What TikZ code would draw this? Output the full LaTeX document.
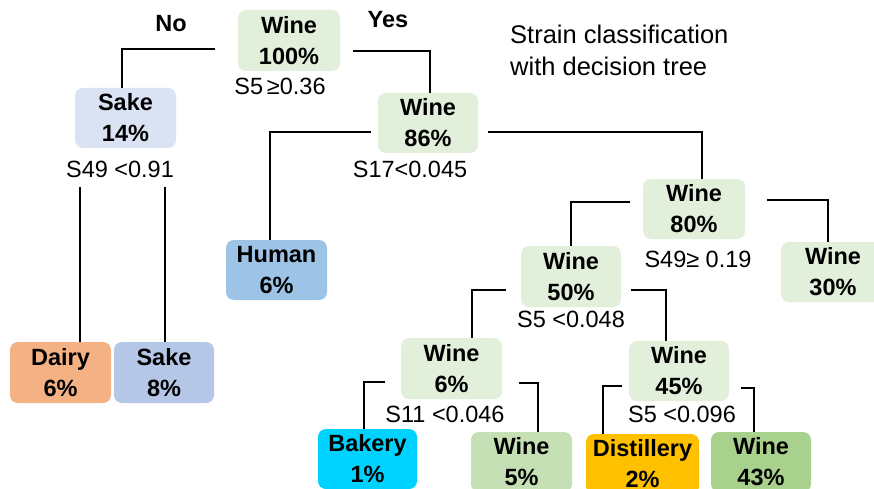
\documentclass[tikz,border=0pt]{standalone}
\usepackage{fontspec}
\setmainfont{Liberation Sans}
\usetikzlibrary{calc}
\definecolor{wgreen}{HTML}{E2EFDA}
\definecolor{sakelight}{HTML}{DAE3F3}
\definecolor{dairyc}{HTML}{F4B183}
\definecolor{sakemid}{HTML}{B4C7E7}
\definecolor{humanc}{HTML}{9DC3E6}
\definecolor{bakeryc}{HTML}{00D2FF}
\definecolor{wmid}{HTML}{C5E0B4}
\definecolor{distc}{HTML}{FFC000}
\definecolor{wdark}{HTML}{A9D18E}
\tikzset{
  nbox/.style={rounded corners=8pt, inner sep=0pt, align=center,
    font=\fontsize{23.5}{31}\selectfont\bfseries, text=black},
  rule/.style={anchor=base, inner sep=0pt, font=\fontsize{23.5}{28}\selectfont},
  tag/.style={anchor=base, inner sep=0pt, font=\fontsize{23.5}{28}\selectfont\bfseries},
  conn/.style={draw=black, line width=2.6pt}
}
\begin{document}
\begin{tikzpicture}[x=1pt,y=-1pt]
\clip (0,0) rectangle (874,489);
\fill[white] (0,0) rectangle (874,489);
% boxes
\node[nbox, fill=wgreen, minimum width=102pt, minimum height=61pt] (root) at (289,40.5) {Wine\\100\%};
\node[nbox, fill=sakelight, minimum width=101pt, minimum height=60pt] (sake14) at (125.5,118) {Sake\\14\%};
\node[nbox, fill=dairyc, minimum width=101pt, minimum height=61pt] (dairy) at (60.5,372.5) {Dairy\\6\%};
\node[nbox, fill=sakemid, minimum width=100pt, minimum height=61pt] (sake8) at (164,372.5) {Sake\\8\%};
\node[nbox, fill=wgreen, minimum width=100pt, minimum height=60pt] (w86) at (428,123) {Wine\\86\%};
\node[nbox, fill=humanc, minimum width=101pt, minimum height=60pt] (human) at (276.5,270) {Human\\6\%};
\node[nbox, fill=wgreen, minimum width=102pt, minimum height=60pt] (w80) at (694,209) {Wine\\80\%};
\node[nbox, fill=wgreen, minimum width=104pt, minimum height=60pt] (w30) at (833,272) {Wine\\30\%};
\node[nbox, fill=wgreen, minimum width=100pt, minimum height=61pt] (w50) at (571,276.5) {Wine\\50\%};
\node[nbox, fill=wgreen, minimum width=101pt, minimum height=61pt] (w6) at (451.5,368.5) {Wine\\6\%};
\node[nbox, fill=wgreen, minimum width=100pt, minimum height=60pt] (w45) at (679,371) {Wine\\45\%};
\node[nbox, fill=bakeryc, minimum width=99pt, minimum height=60pt] (bakery) at (367.5,459) {Bakery\\1\%};
\node[nbox, fill=wmid, minimum width=101pt, minimum height=60pt] (w5) at (521.5,462) {Wine\\5\%};
\node[nbox, fill=distc, minimum width=113pt, minimum height=60pt] (dist) at (642.5,464) {Distillery\\2\%};
\node[nbox, fill=wdark, minimum width=100pt, minimum height=60pt] (w43) at (761,462) {Wine\\43\%};
% split rules
\node[rule] (r1) at (280,95) {S5\,≥0.36};
\node[rule] (r2) at (120,177) {S49 <0.91};
\node[rule] (r3) at (410,178) {S17<0.045};
\node[rule] (r4) at (698,267) {S49≥ 0.19};
\node[rule] (r5) at (571,327) {S5 <0.048};
\node[rule] (r6) at (445,422) {S11 <0.046};
\node[rule] (r7) at (682,422) {S5 <0.096};
% branch tags
\node[tag] (no) at (171,32) {No};
\node[tag] (yes) at (388,28) {Yes};
% title
\node[anchor=base west, inner sep=0pt, align=left, font=\fontsize{25.5}{32}\selectfont] (title) at (510,76) {Strain classification\\with decision tree};
% connectors
\draw[conn] ($(root.west)+(-23,8.5)$) -| ($(sake14.north)+(-3.5,0)$);
\draw[conn] ($(root.east)+(13,10.5)$) -| ($(w86.north)+(2,0)$);
\coordinate (s14a) at ($(sake14.south)+(-45.5,39)$);
\coordinate (s14b) at ($(sake14.south)+(39.5,39)$);
\draw[conn] (s14a) -- (s14a |- dairy.north);
\draw[conn] (s14b) -- (s14b |- sake8.north);
\draw[conn] ($(w86.west)+(-7,9)$) -| ($(human.north)+(-6.5,0)$);
\draw[conn] ($(w86.east)+(10,9)$) -| ($(w80.north)+(8,0)$);
\draw[conn] ($(w80.west)+(-13,-7)$) -| (w50.north);
\draw[conn] ($(w80.east)+(22,-9)$) -| ($(w30.north)+(-5,0)$);
\draw[conn] ($(w50.west)+(-15,13.5)$) -| ($(w6.north)+(20.5,0)$);
\draw[conn] ($(w50.east)+(10,13.5)$) -| ($(w45.north)+(-13,0)$);
\draw[conn] ($(w6.west)+(-16,13.5)$) -| ($(bakery.north)+(-3.5,0)$);
\draw[conn] ($(w6.east)+(17,14.5)$) -| ($(w5.north)+(16.5,0)$);
\draw[conn] ($(w45.west)+(-7,15)$) -| ($(dist.north)+(-39.5,0)$);
\draw[conn] ($(w45.east)+(12,17)$) -| ($(w43.north)+(-7,0)$);
\end{tikzpicture}
\end{document}
